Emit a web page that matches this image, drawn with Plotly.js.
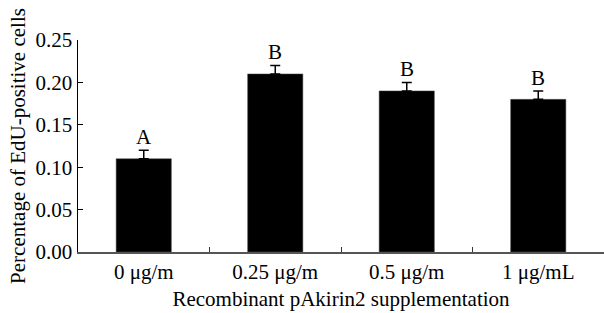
<!DOCTYPE html>
<html>
<head>
<meta charset="utf-8">
<script src="https://cdn.plot.ly/plotly-3.0.1.min.js"></script>
<style>html,body{margin:0;padding:0;background:#fff;}#chart{width:604px;height:313px;}</style>
</head>
<body>
<div id="chart"></div>
<script>
const categories = ["0 μg/m", "0.25 μg/m", "0.5 μg/m", "1 μg/mL"];
const means = [0.11, 0.21, 0.19, 0.18];
const errors = [0.01, 0.01, 0.01, 0.01];
const letters = ["A", "B", "B", "B"];
const yTicks = [0, 0.05, 0.10, 0.15, 0.20, 0.25];
const yTickLabels = ["0.00", "0.05", "0.10", "0.15", "0.20", "0.25"];

const font = "Liberation Serif, Times New Roman, serif";
const fs = 21;

const trace = {
  type: "bar",
  x: categories,
  y: means,
  width: 0.42,
  marker: {color: "#000000", line: {color: "#555", width: 0.5}},
  error_y: {type: "data", symmetric: false, array: errors, arrayminus: errors.map(() => 0),
            color: "#000", thickness: 1.5, width: 5},
  hoverinfo: "none"
};

const annotations = categories.map((c, i) => ({
  x: c, y: means[i] + errors[i], xref: "x", yref: "y",
  text: letters[i], showarrow: false, yanchor: "bottom", yshift: -1,
  font: {family: font, size: fs, color: "#000"}
}));

const layout = {
  width: 604, height: 313,
  margin: {l: 78, r: 0, t: 40, b: 61},
  paper_bgcolor: "#fff", plot_bgcolor: "#fff",
  showlegend: false,
  font: {family: font, size: fs, color: "#000"},
  xaxis: {
    type: "category", range: [-0.5, 3.5],
    showline: true, linecolor: "#555", linewidth: 1.5,
    ticks: "inside", tickson: "boundaries", ticklen: 5, tickcolor: "#333", tickwidth: 1,
    showgrid: false, zeroline: false,
    tickfont: {family: font, size: fs, color: "#000"},
    title: {text: "Recombinant pAkirin2 supplementation", font: {family: font, size: fs, color: "#000"}, standoff: 8}
  },
  yaxis: {
    range: [0, 0.25], tickvals: yTicks, ticktext: yTickLabels,
    showline: true, linecolor: "#000", linewidth: 1.5,
    ticks: "inside", ticklen: 5, tickcolor: "#000", tickwidth: 1,
    showgrid: false, zeroline: false,
    tickfont: {family: font, size: fs, color: "#000"},
    title: {text: "Percentage of EdU-positive cells", font: {family: font, size: fs, color: "#000"}, standoff: 4}
  },
  annotations: annotations
};

Plotly.newPlot("chart", [trace], layout, {displayModeBar: false, staticPlot: true});
</script>
</body>
</html>
